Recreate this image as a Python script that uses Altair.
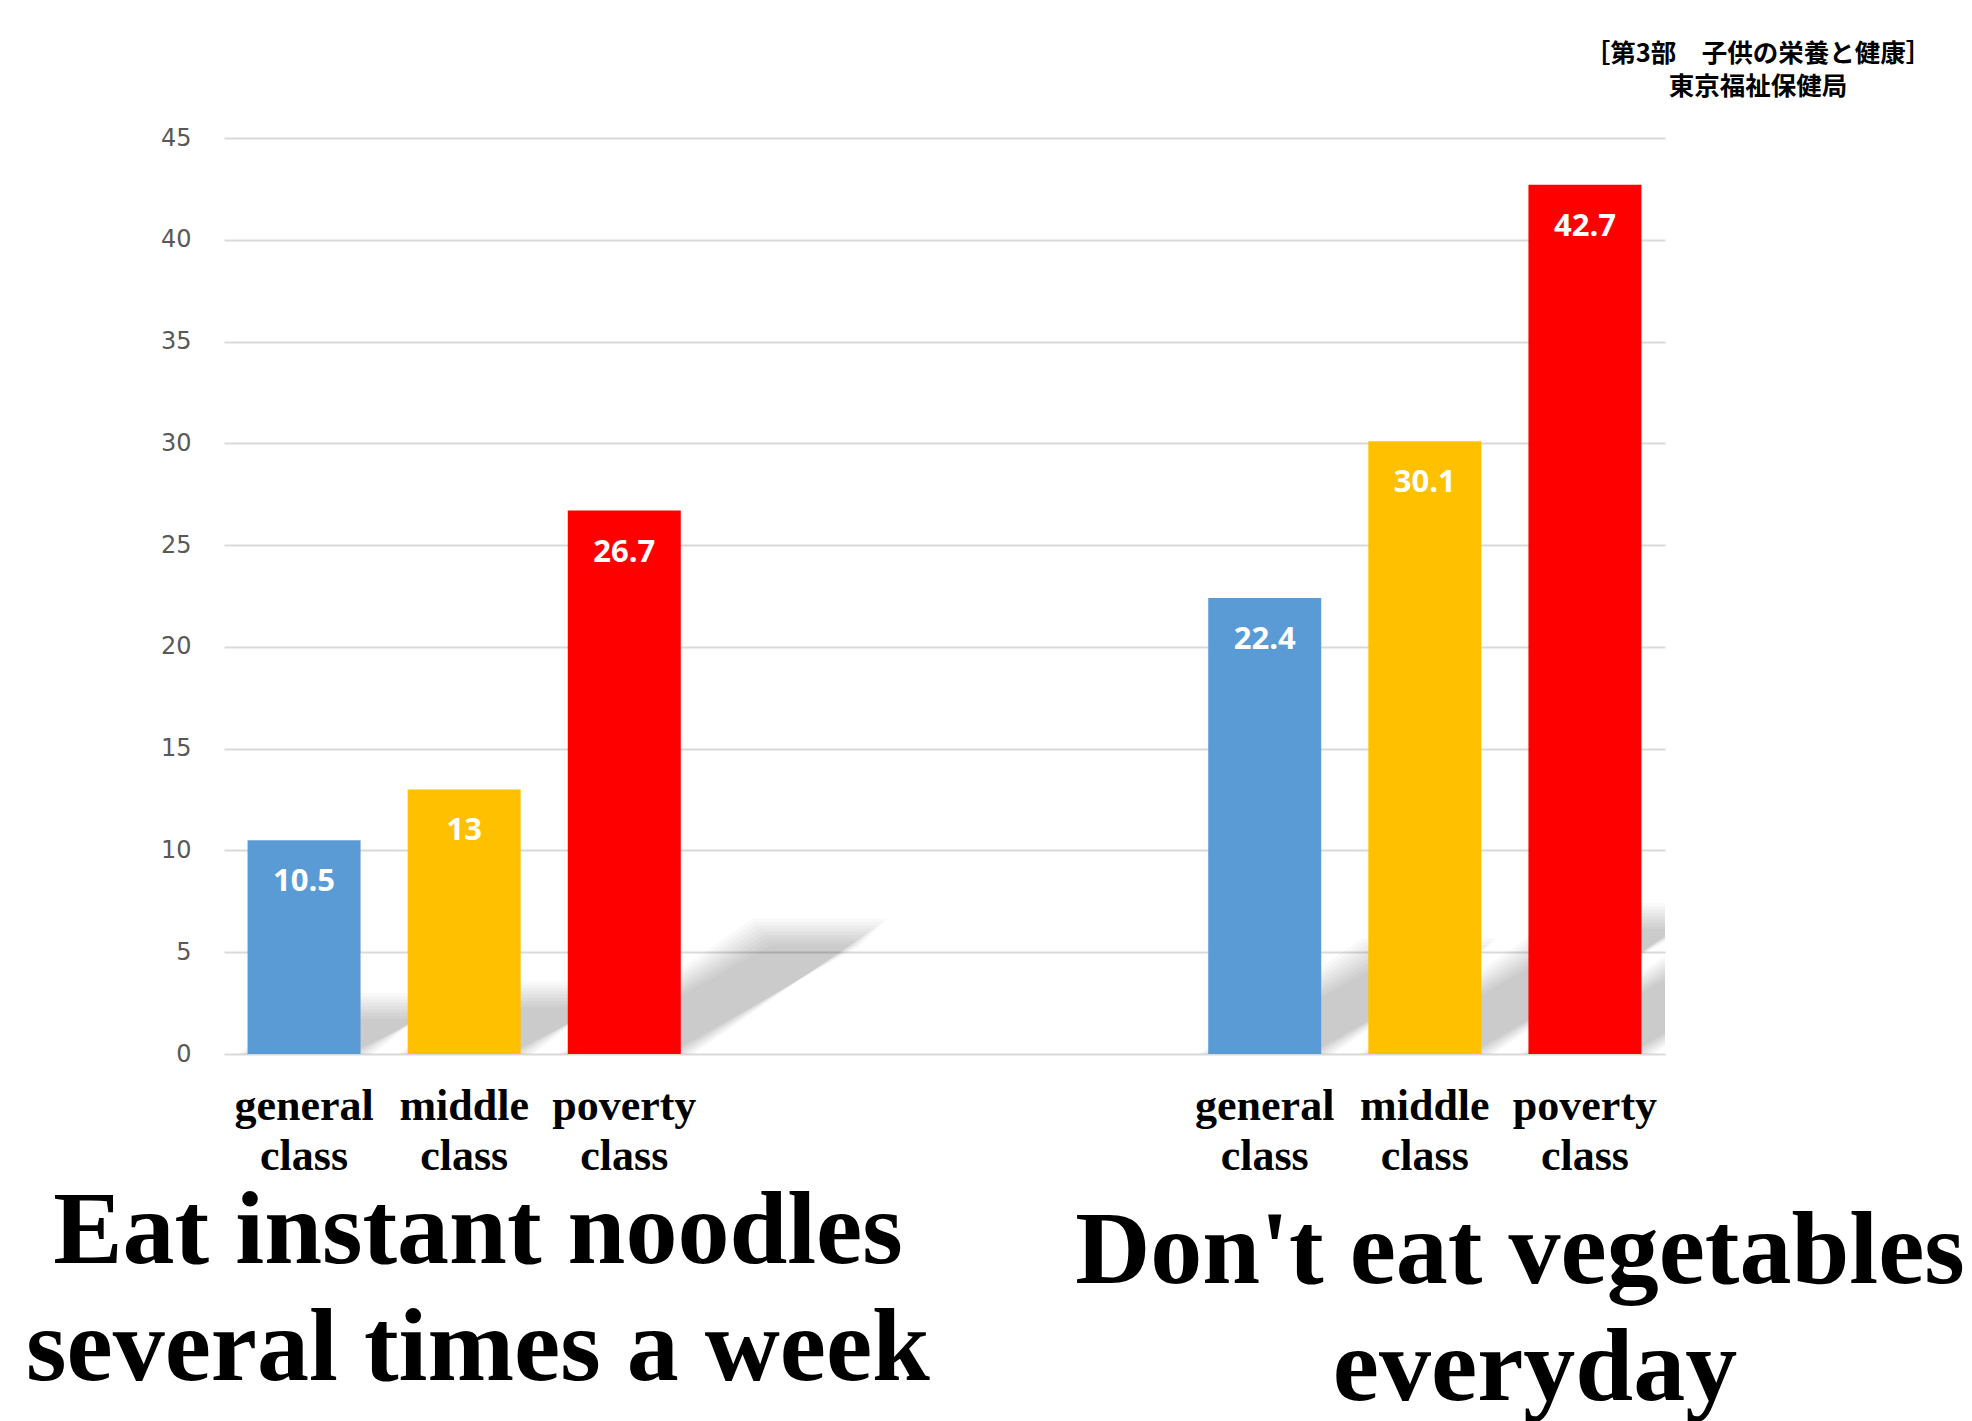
import altair as alt
import pandas as pd

# ---- data ----
classes = ["general class", "middle class", "poverty class"]
noodles = [10.5, 13, 26.7]          # Eat instant noodles several times a week
vegetables = [22.4, 30.1, 42.7]     # Don't eat vegetables everyday
slots_noodles = [0, 1, 2]
slots_vegetables = [6, 7, 8]
colors = ["#5B9BD5", "#FFC000", "#FF0000"]
y_ticks = [0, 5, 10, 15, 20, 25, 30, 35, 40, 45]
title_left = ["Eat instant noodles", "several times a week"]
title_right = ["Don't eat vegetables", "everyday"]
header = ["［第3部　子供の栄養と健康］", "東京福祉保健局"]

rows = []
for s, c, v in zip(slots_noodles, classes, noodles):
    rows.append({"slot": s, "cls": c, "value": v, "label": f"{v:g}"})
for s, c, v in zip(slots_vegetables, classes, vegetables):
    rows.append({"slot": s, "cls": c, "value": v, "label": f"{v:g}"})
df = pd.DataFrame(rows)

W, H = 1441, 916
x_scale = alt.Scale(domain=[-0.5, 8.5], nice=False, zero=False, padding=0)
y_scale = alt.Scale(domain=[0, 45], nice=False, padding=0)

base = alt.Chart(df)

# soft perspective shadow of every bar (parallelogram derived from its value),
# drawn as several nested translucent copies to imitate the blur
shadow = base.transform_calculate(
    b="[-4, -3, -2, -1, 0, 1, 2, 3, 4]",
).transform_flatten(["b"]).transform_calculate(
    d="datum.value * 0.0454",
    t="datum.value * 0.225 + datum.b * 0.16",
    xL="datum.slot - 0.353 - datum.b * 0.015",
    xR="datum.slot + 0.353 + datum.b * 0.02",
    k="sequence(0, 4)",
).transform_flatten(["k"]).transform_calculate(
    xs="datum.k == 0 ? datum.xL : datum.k == 1 ? datum.xR : datum.k == 2 ? datum.xL + datum.d : datum.xR + datum.d"
).transform_calculate(
    lo="datum.t * clamp((datum.xs - datum.xR) / datum.d, 0, 1)",
    hi="datum.t * clamp((datum.xs - datum.xL) / datum.d, 0, 1)",
).mark_area(color="black", opacity=0.025, clip=True).encode(
    x=alt.X("xs:Q", scale=x_scale, axis=None),
    y=alt.Y("lo:Q", scale=y_scale),
    y2="hi:Q",
    detail=["slot:N", "b:N"],
)

bars = base.mark_bar(size=113).encode(
    x=alt.X("slot:Q", scale=x_scale, axis=None),
    y=alt.Y(
        "value:Q",
        scale=y_scale,
        axis=alt.Axis(
            values=y_ticks,
            grid=True,
            gridColor="#D9D9D9",
            gridWidth=2,
            domain=False,
            ticks=False,
            labelFont="DejaVu Sans",
            labelFontSize=24,
            labelColor="#595959",
            labelPadding=33,
            title=None,
        ),
    ),
    color=alt.Color("cls:N", scale=alt.Scale(domain=classes, range=colors), legend=None),
)

value_labels = base.mark_text(
    baseline="alphabetic", dy=51, color="white",
    font="Open Sans", fontWeight="bold", fontSize=31,
).encode(
    x=alt.X("slot:Q", scale=x_scale),
    y=alt.Y("value:Q", scale=y_scale),
    text="label:N",
)

x_labels = base.mark_text(
    baseline="alphabetic", dy=66, lineBreak=" ", lineHeight=50,
    font="Liberation Serif", fontWeight="bold", fontSize=44, color="black",
).encode(
    x=alt.X("slot:Q", scale=x_scale),
    y=alt.YDatum(0),
    text="cls:N",
)

title_style = dict(
    baseline="alphabetic", align="center",
    font="Liberation Serif", fontWeight="bold", fontSize=104, color="black",
)

t_left = alt.Chart(pd.DataFrame({"t": ["\n".join(title_left)]})).mark_text(
    lineBreak="\n", lineHeight=117, **title_style
).encode(x=alt.value(254), y=alt.value(1125), text="t:N")

t_right1 = alt.Chart(pd.DataFrame({"t": [title_right[0]]})).mark_text(
    **title_style
).encode(x=alt.value(1296), y=alt.value(1145), text="t:N")

t_right2 = alt.Chart(pd.DataFrame({"t": [title_right[1]]})).mark_text(
    **title_style
).encode(x=alt.value(1311), y=alt.value(1262), text="t:N")

head = alt.Chart(pd.DataFrame({"t": ["\n".join(header)]})).mark_text(
    baseline="alphabetic", align="center", lineBreak="\n", lineHeight=33,
    font="Noto Sans CJK JP", fontWeight="bold", fontSize=25.5, color="black",
).encode(x=alt.value(1534), y=alt.value(-76), text="t:N")

chart = alt.layer(
    shadow, bars, value_labels, x_labels, t_left, t_right1, t_right2, head
).properties(
    width=W,
    height=H,
    padding={"left": 224, "top": 138, "right": 307, "bottom": 367},
    autosize=alt.AutoSizeParams(type="none"),
    background="white",
).configure_view(stroke=None)

chart.save("out.html", embed_options={"renderer": "svg", "actions": False})
